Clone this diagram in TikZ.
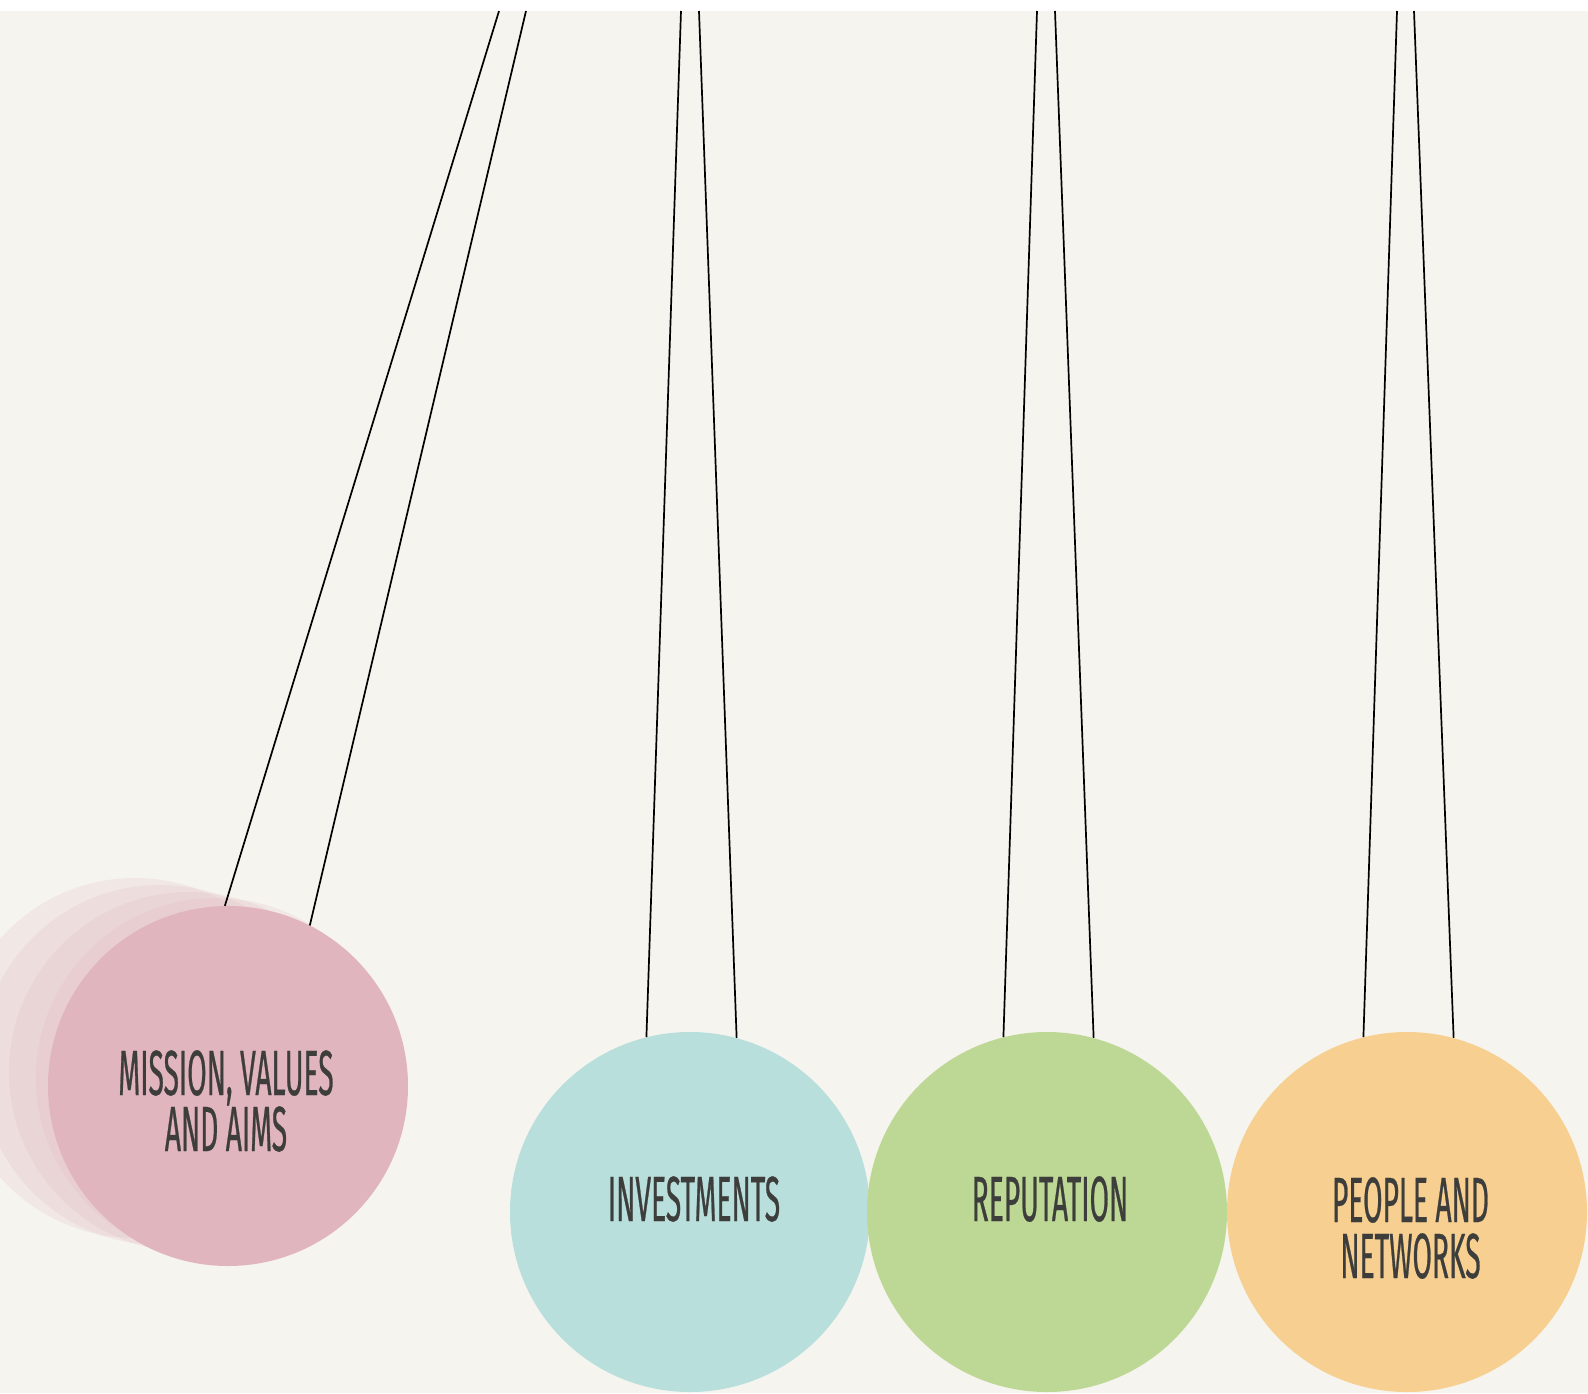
\documentclass[tikz,border=0pt]{standalone}
\usepackage{fontspec}
\newfontfamily\lblfont[FakeStretch=0.44, FakeBold=0.4]{Fira Sans}
\definecolor{bg}{HTML}{F5F4EE}
\definecolor{pinkc}{HTML}{E1B5BE}
\definecolor{tealc}{HTML}{B8DFDC}
\definecolor{greenc}{HTML}{BDD895}
\definecolor{orangec}{HTML}{F7D091}
\definecolor{ink}{HTML}{3D3D3B}
\begin{document}
\begin{tikzpicture}[x=1pt,y=-1pt,
 ball/.style={circle, minimum size=360pt, inner sep=0pt, draw=none},
 ghost/.style={circle, minimum size=360pt, inner sep=0pt, fill=pinkc, opacity=0.2},
 lbl/.style={anchor=north, inner sep=0pt, align=center, text=ink, font=\lblfont\fontsize{64}{56}\selectfont},
 cord/.style={draw=black, line width=1.7pt}]
\useasboundingbox (0,0) rectangle (1588,1393);
\fill[white] (0,0) rectangle (1588,11);
\fill[bg] (0,11) rectangle (1588,1393);
% ghost positions of the swinging ball
\node[ghost] (g4) at (135,1058) {};
\node[ghost] (g3) at (160,1065) {};
\node[ghost] (g2) at (189,1072) {};
\node[ghost] (g1) at (216,1078) {};
% balls
\node[ball, fill=pinkc] (mis) at (228,1086) {};
\node[ball, fill=tealc] (inv) at (690,1212) {};
\node[ball, fill=greenc] (rep) at (1047,1212) {};
\node[ball, fill=orangec] (ppl) at (1407,1212) {};
% labels
\node[lbl] (mist) at (226,1050) {MISSION, VALUES\\AND AIMS};
\node[lbl] (invt) at (694,1176) {INVESTMENTS};
\node[lbl] (rept) at (1050,1176) {REPUTATION};
\node[lbl] (pplt) at (1410.5,1177) {PEOPLE AND\\NETWORKS};
% string tops
\coordinate (m1) at (499,11);
\coordinate (m2) at (526,11);
\coordinate (i1) at (681,11);
\coordinate (i2) at (699,11);
\coordinate (r1) at (1037,11);
\coordinate (r2) at (1055,11);
\coordinate (p1) at (1397,11);
\coordinate (p2) at (1414,11);
% strings
\draw[cord] (mis.91.6) -- (m1);
\draw[cord] (mis.63.6) -- (m2);
\draw[cord] (inv.104.5) -- (i1);
\draw[cord] (inv.75.5) -- (i2);
\draw[cord] (rep.104.5) -- (r1);
\draw[cord] (rep.75.5) -- (r2);
\draw[cord] (ppl.104.5) -- (p1);
\draw[cord] (ppl.75.5) -- (p2);
\end{tikzpicture}
\end{document}
